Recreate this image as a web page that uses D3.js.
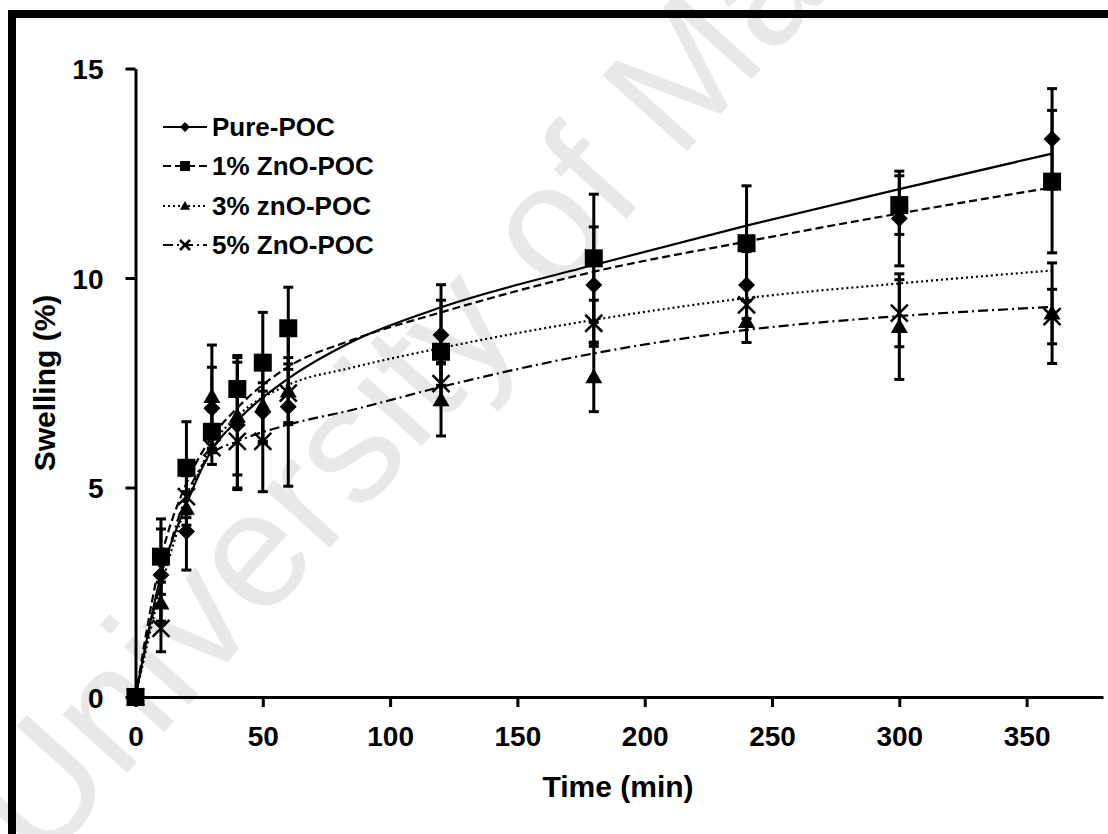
<!DOCTYPE html>
<html>
<head>
<meta charset="utf-8">
<script src="https://cdn.jsdelivr.net/npm/d3@7"></script>
<style>
  body { margin: 0; background: #fff; }
  svg { display: block; }
  text { font-family: Arial, "Liberation Sans", sans-serif; }
</style>
</head>
<body>
<div id="chart"></div>
<script>
// sampling times (min)
const times = [0, 10, 20, 30, 40, 50, 60, 120, 180, 240, 300, 360];

// swelling (%) and error for each sample
const purePOC    = [0, 2.91, 3.95, 6.89, 6.49, 6.8, 6.93, 8.64, 9.83, 9.83, 11.42, 13.32];
const purePOCErr = [0, 1.1, 0.92, 0.98, 1.5, 0.7, 1.9, 1.2, 1.39, 0.8, 1.13, 1.2];
const zno1       = [0, 3.35, 5.47, 6.33, 7.35, 7.98, 8.8, 8.24, 10.47, 10.83, 11.74, 12.3];
const zno1Err    = [0, 0.9, 1.1, 0.5, 0.8, 1.2, 0.98, 1.23, 1.53, 1.37, 0.7, 1.7];
const zno3       = [0, 2.24, 4.5, 7.17, 6.7, 6.95, 7.3, 7.09, 7.64, 8.96, 8.84, 9.16];
const zno3Err    = [0, 0.5, 0.4, 1.23, 1.4, 0.9, 0.8, 0.86, 0.83, 0.5, 1.26, 1.2];
const zno5       = [0, 1.64, 4.78, 5.95, 6.1, 6.1, 7.25, 7.48, 8.92, 9.36, 9.16, 9.08];
const zno5Err    = [0, 0.56, 0.5, 0.4, 1.15, 1.2, 0.7, 0.5, 0.55, 0.5, 0.8, 0.65];

// trend lines
const trendTimes = [0, 10, 20, 30, 40, 60, 85, 120, 180, 240, 300, 360];
const pureTrend  = [0, 2.9, 4.6, 5.9, 6.6, 7.6, 8.48, 9.3, 10.31, 11.25, 12.12, 12.97];
const zno1Trend  = [0, 3.3, 5.1, 6.2, 6.9, 7.88, 8.52, 9.18, 10.15, 10.87, 11.54, 12.16];
const zno3Trend  = [0, 2.6, 4.6, 6.0, 6.7, 7.45, 7.86, 8.33, 9.0, 9.52, 9.87, 10.18];
const zno5Trend  = [0, 2.8, 4.8, 5.8, 6.1, 6.5, 6.85, 7.4, 8.2, 8.76, 9.09, 9.31];

const seriesNames = ["Pure-POC", "1% ZnO-POC", "3% znO-POC", "5% ZnO-POC"];
const xTicks = [0, 50, 100, 150, 200, 250, 300, 350];
const yTicks = [0, 5, 10, 15];

const W = 1108, H = 834;

const series = [
  { name: seriesNames[0], values: purePOC, err: purePOCErr, trend: pureTrend, marker: "diamond", dash: null },
  { name: seriesNames[1], values: zno1, err: zno1Err, trend: zno1Trend, marker: "square", dash: "8,4" },
  { name: seriesNames[2], values: zno3, err: zno3Err, trend: zno3Trend, marker: "triangle", dash: "2,3" },
  { name: seriesNames[3], values: zno5, err: zno5Err, trend: zno5Trend, marker: "cross", dash: "10,4,2,4" }
];

const svg = d3.select("#chart").append("svg")
  .attr("width", W)
  .attr("height", H);

// watermark
svg.append("text")
  .attr("transform", "translate(40,870) rotate(-48)")
  .attr("font-size", 165)
  .attr("fill", "#e8e8e8")
  .text("University of Malaya");

// outer frame (runs off the right and bottom edge)
svg.append("rect")
  .attr("x", 12).attr("y", 14)
  .attr("width", 1130).attr("height", 860)
  .attr("fill", "none")
  .attr("stroke", "#000")
  .attr("stroke-width", 8);

const x = d3.scaleLinear().domain([0, 380]).range([135.5, 1103]);
const y = d3.scaleLinear().domain([0, 15]).range([697, 68.5]);

// axes
const xAxis = svg.append("g")
  .attr("transform", `translate(0,${y(0)})`)
  .call(d3.axisBottom(x).tickValues(xTicks).tickSize(10).tickPadding(19).tickSizeOuter(0));
const yAxis = svg.append("g")
  .attr("transform", `translate(${x(0)},0)`)
  .call(d3.axisLeft(y).tickValues(yTicks).tickSize(10).tickPadding(22).tickSizeOuter(0));

[xAxis, yAxis].forEach(a => {
  a.select(".domain").attr("stroke", "#000").attr("stroke-width", 3);
  a.selectAll(".tick line").attr("stroke", "#000").attr("stroke-width", 3);
  a.selectAll(".tick text")
    .attr("fill", "#000")
    .attr("font-size", 28)
    .attr("font-weight", "bold")
    .style("font-family", "Arial, 'Liberation Sans', sans-serif");
});
yAxis.selectAll(".tick text").attr("dy", "0.36em");

svg.append("text")
  .attr("x", 618).attr("y", 797)
  .attr("text-anchor", "middle")
  .attr("font-size", 30).attr("font-weight", "bold")
  .text("Time (min)");

svg.append("text")
  .attr("transform", "translate(55,383) rotate(-90)")
  .attr("text-anchor", "middle")
  .attr("font-size", 30).attr("font-weight", "bold")
  .text("Swelling (%)");

// marker shapes
function markerPath(type, s) {
  const p = d3.path();
  if (type === "diamond") {
    p.moveTo(0, -s); p.lineTo(s, 0); p.lineTo(0, s); p.lineTo(-s, 0); p.closePath();
  } else if (type === "square") {
    p.rect(-s, -s, 2 * s, 2 * s);
  } else if (type === "triangle") {
    p.moveTo(0, -s); p.lineTo(s, s * 0.75); p.lineTo(-s, s * 0.75); p.closePath();
  } else {
    p.moveTo(-s, -s); p.lineTo(s, s); p.moveTo(s, -s); p.lineTo(-s, s);
  }
  return p.toString();
}

function drawMarker(g, type, s) {
  g.append("path")
    .attr("d", markerPath(type, s))
    .attr("fill", type === "cross" ? "none" : "#000")
    .attr("stroke", "#000")
    .attr("stroke-width", type === "cross" ? 2.5 : 0);
}

const trendLine = d3.line()
  .x(d => x(d[0]))
  .y(d => y(d[1]))
  .curve(d3.curveMonotoneX);

const plot = svg.append("g");

series.forEach(s => {
  const pts = times.map((t, i) => ({ t: t, v: s.values[i], e: s.err[i] }));

  // trend line
  plot.append("path")
    .datum(trendTimes.map((t, i) => [t, s.trend[i]]))
    .attr("d", trendLine)
    .attr("fill", "none")
    .attr("stroke", "#000")
    .attr("stroke-width", 2.2)
    .attr("stroke-dasharray", s.dash);

  // error bars
  const eb = plot.append("g")
    .attr("stroke", "#000")
    .attr("stroke-width", 3)
    .selectAll("g")
    .data(pts.filter(d => d.e > 0))
    .join("g");
  eb.append("line")
    .attr("x1", d => x(d.t)).attr("x2", d => x(d.t))
    .attr("y1", d => y(d.v - d.e)).attr("y2", d => y(d.v + d.e));
  eb.append("line")
    .attr("x1", d => x(d.t) - 5).attr("x2", d => x(d.t) + 5)
    .attr("y1", d => y(d.v + d.e)).attr("y2", d => y(d.v + d.e));
  eb.append("line")
    .attr("x1", d => x(d.t) - 5).attr("x2", d => x(d.t) + 5)
    .attr("y1", d => y(d.v - d.e)).attr("y2", d => y(d.v - d.e));

  // markers
  plot.append("g")
    .selectAll("g")
    .data(pts)
    .join("g")
    .attr("transform", d => `translate(${x(d.t)},${y(d.v)})`)
    .each(function() { drawMarker(d3.select(this), s.marker, s.marker === "square" ? 9 : 8.5); });
});

// legend
const legendY = [127, 166, 206, 245];
const legend = svg.append("g");
series.forEach((s, i) => {
  const g = legend.append("g").attr("transform", `translate(0,${legendY[i]})`);
  g.append("line")
    .attr("x1", 163).attr("x2", 207)
    .attr("stroke", "#000").attr("stroke-width", 2.2)
    .attr("stroke-dasharray", s.dash);
  const m = g.append("g").attr("transform", "translate(185,0)");
  drawMarker(m, s.marker, 5);
  g.append("text")
    .attr("x", 212).attr("dy", "0.36em")
    .attr("font-size", 26).attr("font-weight", "bold")
    .text(s.name);
});
</script>
</body>
</html>
